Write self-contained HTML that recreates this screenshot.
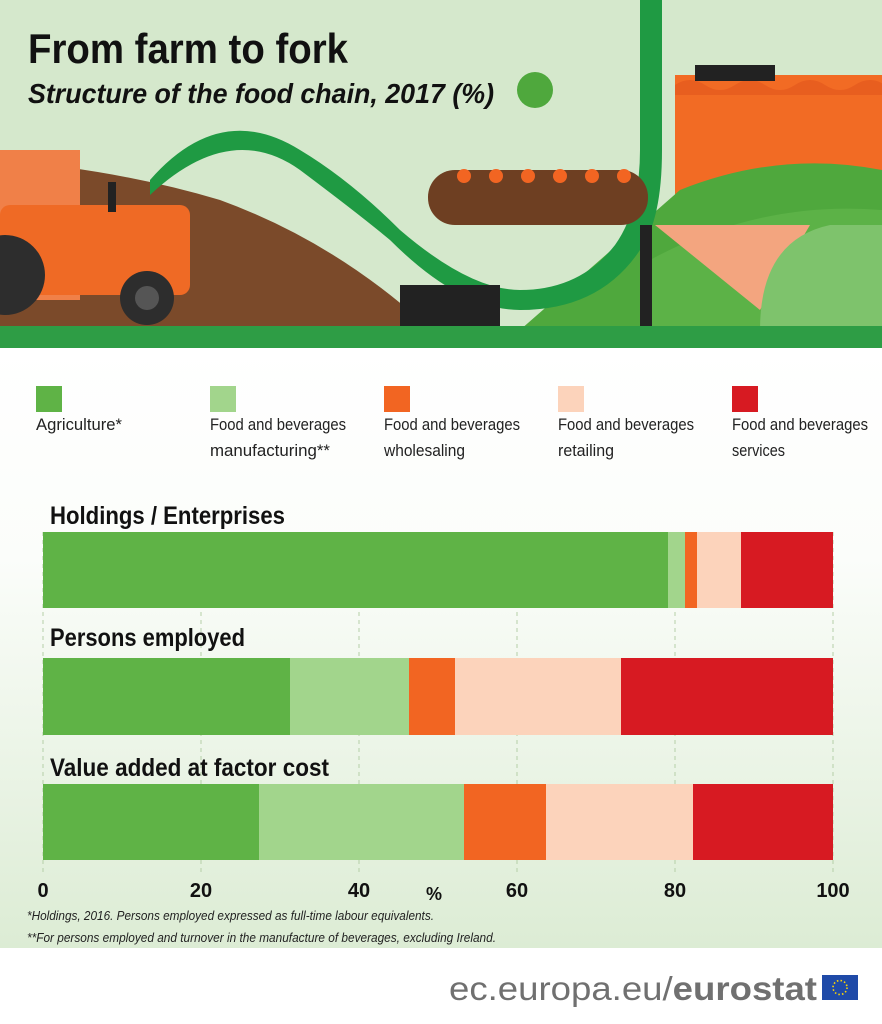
<!DOCTYPE html>
<html><head><meta charset="utf-8"><style>
html,body{margin:0;padding:0;background:#fff}
svg{display:block}
text{font-family:"Liberation Sans",sans-serif}
</style></head><body>
<svg width="882" height="1024" viewBox="0 0 882 1024" xmlns="http://www.w3.org/2000/svg">
<defs>
<linearGradient id="bg" x1="0" y1="0" x2="0" y2="1">
<stop offset="0" stop-color="#ffffff"/><stop offset="0.35" stop-color="#fbfdfa"/><stop offset="1" stop-color="#dcecd4"/>
</linearGradient>
</defs>
<!-- header illustration -->
<rect x="0" y="0" width="882" height="348" fill="#d5e8cc"/>
<rect x="675" y="75" width="207" height="180" fill="#f26b24"/>
<path d="M675 85 q15 -10 30 0 t30 0 t30 0 t30 0 t30 0 t30 0 t30 0 v10 h-210z" fill="#e85e1f"/>
<path d="M0 160 Q120 170 220 200 Q330 240 420 320 L420 330 L0 330z" fill="#7b4a2a"/>
<path d="M520 330 L680 190 Q780 150 882 170 L882 330z" fill="#4fa83d"/>
<path d="M650 260 Q760 200 882 210 L882 330 L650 330z" fill="#5cb247"/>
<path d="M150 195 Q230 120 300 170 Q360 215 390 240 Q460 310 520 310 Q600 310 640 250 Q662 220 662 150 L662 0 L640 0 L640 150 Q640 210 615 245 Q580 290 520 290 Q470 290 400 230 Q350 180 300 150 Q220 100 150 180z" fill="#1f9a43"/>
<rect x="428" y="170" width="220" height="55" rx="27" fill="#6e3f22"/>
<g fill="#f26522">
<circle cx="464" cy="176" r="7"/><circle cx="496" cy="176" r="7"/><circle cx="528" cy="176" r="7"/><circle cx="560" cy="176" r="7"/><circle cx="592" cy="176" r="7"/><circle cx="624" cy="176" r="7"/>
</g>
<rect x="0" y="150" width="80" height="150" fill="#f08048"/>
<rect x="0" y="205" width="190" height="90" rx="10" fill="#ef6a25"/>
<rect x="108" y="182" width="8" height="30" fill="#222"/>
<circle cx="147" cy="298" r="27" fill="#2d2d2d"/><circle cx="147" cy="298" r="12" fill="#555"/>
<circle cx="5" cy="275" r="40" fill="#2d2d2d"/>
<rect x="400" y="285" width="100" height="45" fill="#222"/>
<rect x="640" y="225" width="12" height="115" fill="#222"/>
<path d="M655 225 L810 225 L760 310 z" fill="#f3a57f"/>
<path d="M760 330 Q760 240 830 225 L882 225 L882 330z" fill="#7ec36c"/>
<circle cx="535" cy="90" r="18" fill="#4fa83d"/>
<rect x="695" y="65" width="80" height="16" fill="#222"/>
<rect x="0" y="326" width="882" height="22" fill="#2e9d45"/>
<text x="28" y="63" font-size="42" font-weight="bold" fill="#111" textLength="320" lengthAdjust="spacingAndGlyphs">From farm to fork</text>
<text x="28" y="103" font-size="28" font-weight="bold" font-style="italic" fill="#111" textLength="466" lengthAdjust="spacingAndGlyphs">Structure of the food chain, 2017 (%)</text>
<!-- lower background -->
<rect x="0" y="348" width="882" height="602" fill="url(#bg)"/>
<rect x="0" y="948" width="882" height="76" fill="#fff"/>
<!-- legend -->
<rect x="36" y="386" width="26" height="26" fill="#5fb346"/>
<rect x="210" y="386" width="26" height="26" fill="#a2d58c"/>
<rect x="384" y="386" width="26" height="26" fill="#f26522"/>
<rect x="558" y="386" width="26" height="26" fill="#fcd3bb"/>
<rect x="732" y="386" width="26" height="26" fill="#d71a22"/>
<g font-size="17" fill="#222">
<text x="36" y="430" textLength="86" lengthAdjust="spacingAndGlyphs">Agriculture*</text>
<text x="210" y="430" textLength="136" lengthAdjust="spacingAndGlyphs">Food and beverages</text>
<text x="210" y="456" textLength="120" lengthAdjust="spacingAndGlyphs">manufacturing**</text>
<text x="384" y="430" textLength="136" lengthAdjust="spacingAndGlyphs">Food and beverages</text>
<text x="384" y="456" textLength="81" lengthAdjust="spacingAndGlyphs">wholesaling</text>
<text x="558" y="430" textLength="136" lengthAdjust="spacingAndGlyphs">Food and beverages</text>
<text x="558" y="456" textLength="56" lengthAdjust="spacingAndGlyphs">retailing</text>
<text x="732" y="430" textLength="136" lengthAdjust="spacingAndGlyphs">Food and beverages</text>
<text x="732" y="456" textLength="53" lengthAdjust="spacingAndGlyphs">services</text>
</g>
<!-- grid -->
<g stroke="#b5cfa8" stroke-width="1" stroke-dasharray="4,4">
<line x1="43" y1="532" x2="43" y2="875"/><line x1="201" y1="532" x2="201" y2="875"/>
<line x1="359" y1="532" x2="359" y2="875"/><line x1="517" y1="532" x2="517" y2="875"/>
<line x1="675" y1="532" x2="675" y2="875"/><line x1="833" y1="532" x2="833" y2="875"/>
</g>
<!-- titles -->
<g font-size="25" font-weight="bold" fill="#111">
<text x="50" y="524" textLength="235" lengthAdjust="spacingAndGlyphs">Holdings / Enterprises</text>
<text x="50" y="646" textLength="195" lengthAdjust="spacingAndGlyphs">Persons employed</text>
<text x="50" y="776" textLength="279" lengthAdjust="spacingAndGlyphs">Value added at factor cost</text>
</g>
<!-- bars -->
<rect x="43" y="532" width="625" height="76" fill="#5fb346"/>
<rect x="668" y="532" width="17" height="76" fill="#a2d58c"/>
<rect x="685" y="532" width="12" height="76" fill="#f26522"/>
<rect x="697" y="532" width="44" height="76" fill="#fcd3bb"/>
<rect x="741" y="532" width="92" height="76" fill="#d71a22"/>

<rect x="43" y="658" width="247" height="77" fill="#5fb346"/>
<rect x="290" y="658" width="119" height="77" fill="#a2d58c"/>
<rect x="409" y="658" width="46" height="77" fill="#f26522"/>
<rect x="455" y="658" width="166" height="77" fill="#fcd3bb"/>
<rect x="621" y="658" width="212" height="77" fill="#d71a22"/>

<rect x="43" y="784" width="216" height="76" fill="#5fb346"/>
<rect x="259" y="784" width="205" height="76" fill="#a2d58c"/>
<rect x="464" y="784" width="82" height="76" fill="#f26522"/>
<rect x="546" y="784" width="147" height="76" fill="#fcd3bb"/>
<rect x="693" y="784" width="140" height="76" fill="#d71a22"/>
<!-- axis -->
<g font-size="20" font-weight="bold" fill="#111" text-anchor="middle">
<text x="43" y="897">0</text><text x="201" y="897">20</text><text x="359" y="897">40</text>
<text x="517" y="897">60</text><text x="675" y="897">80</text><text x="833" y="897">100</text>
<text x="434" y="900" font-size="18">%</text>
</g>
<g font-size="13" font-style="italic" fill="#222">
<text x="27" y="920" textLength="407" lengthAdjust="spacingAndGlyphs">*Holdings, 2016. Persons employed expressed as full-time labour equivalents.</text>
<text x="27" y="942" textLength="469" lengthAdjust="spacingAndGlyphs">**For persons employed and turnover in the manufacture of beverages, excluding Ireland.</text>
</g>
<!-- footer -->
<text x="449" y="1000" font-size="33" fill="#707070" textLength="368" lengthAdjust="spacingAndGlyphs">ec.europa.eu/<tspan font-weight="bold">eurostat</tspan></text>
<rect x="822" y="975" width="36" height="25" fill="#1f4aa8"/>
<circle cx="840" cy="987.5" r="7" fill="none" stroke="#ffd800" stroke-width="1.6" stroke-dasharray="1.5,2.2"/>
</svg>
</body></html>
